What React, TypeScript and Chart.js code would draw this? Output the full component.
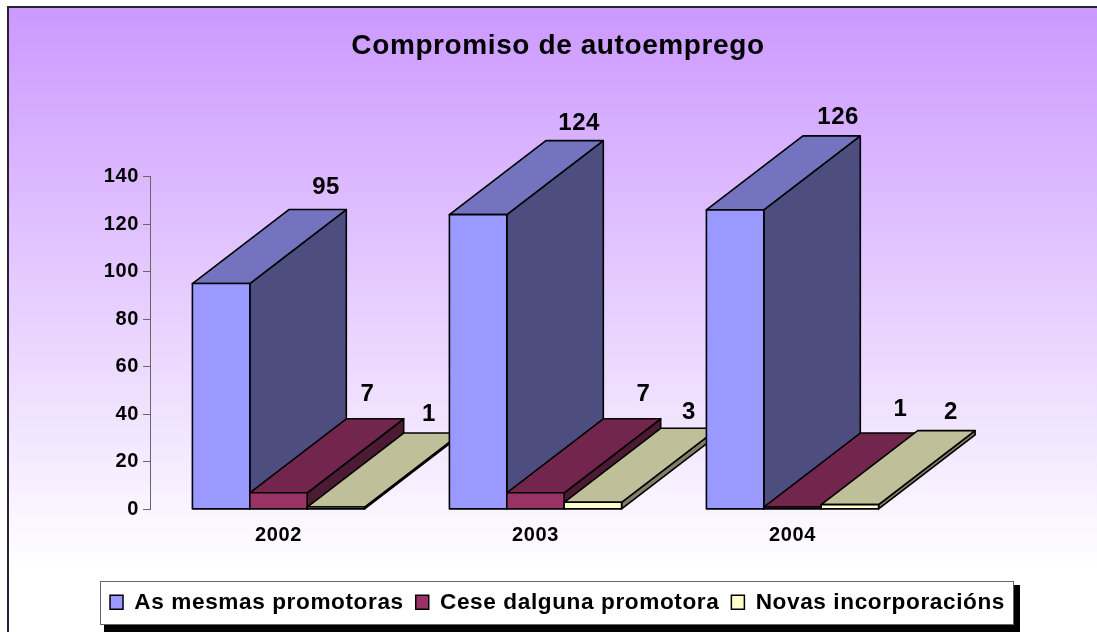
import React, { useEffect, useRef } from "react";
import { Chart, registerables } from "chart.js";

Chart.register(...registerables);

const categories = ["2002", "2003", "2004"];
const mesmas = [95, 124, 126];
const cese = [7, 7, 1];
const novas = [1, 3, 2];
const seriesNames = ["As mesmas promotoras", "Cese dalguna promotora", "Novas incorporacións"];
const yMax = 140;
const yStep = 20;

const FONT = "'Liberation Sans', Arial, sans-serif";
const SPACING = "0.6px";
const DEPTH_X = 96.5;
const DEPTH_Y = 74;
const faces = [
  { front: "#9999FF", top: "#7373BF", side: "#4D4D80" },
  { front: "#993366", top: "#73264D", side: "#4D1A33" },
  { front: "#FFFFCC", top: "#BFBF99", side: "#808066" },
];
// small per-label adjustments relative to each bar's back-top corner
const labelNudge = [
  [[4, -1], [0, 4], [2, 2]],
  [[-12, -3], [7, -3], [7, -3]],
  [[-8, 2], [-5, 5], [0, 3]],
];

function poly(ctx: CanvasRenderingContext2D, pts: number[][], fill: string) {
  ctx.beginPath();
  pts.forEach((p, i) => (i ? ctx.lineTo(p[0], p[1]) : ctx.moveTo(p[0], p[1])));
  ctx.closePath();
  ctx.fillStyle = fill;
  ctx.fill();
  ctx.stroke();
}

const scene = {
  id: "scene",
  beforeUpdate(chart: any) {
    chart.ctx.letterSpacing = SPACING;
    const legend = chart.legend;
    if (legend && !legend.__wide) {
      legend.__wide = true;
      const update = legend.update.bind(legend);
      // the legend is wider than the plot area, so let it lay out over the full canvas width
      legend.update = (_w: number, h: number, m: any) => update(chart.width, h, m);
    }
  },
  afterLayout(chart: any) {
    const t = chart.titleBlock;
    t.left = 100;
    t.right = 1016;
    const l = chart.legend;
    l.left = 85;
    l.right = 1030;
    l.top = 579;
    l.bottom = 625;
  },
  beforeDraw(chart: any) {
    const ctx: CanvasRenderingContext2D = chart.ctx;
    ctx.save();
    ctx.letterSpacing = SPACING;
    const g = ctx.createLinearGradient(0, 7, 0, 570);
    g.addColorStop(0, "#CC99FF");
    g.addColorStop(1, "#FFFFFF");
    ctx.fillStyle = g;
    ctx.fillRect(8, 7, 1089, 625);
    ctx.strokeStyle = "#2A2230";
    ctx.lineWidth = 2;
    ctx.beginPath();
    ctx.moveTo(8, 632);
    ctx.lineTo(8, 7);
    ctx.lineTo(1097, 7);
    ctx.stroke();
    ctx.fillStyle = "#000000";
    ctx.fillRect(104, 585, 916, 47);
    ctx.fillStyle = "#FFFFFF";
    ctx.fillRect(100, 581, 914, 44);
    ctx.strokeStyle = "#666666";
    ctx.lineWidth = 1;
    ctx.strokeRect(100.5, 581.5, 913, 43);
    ctx.restore();
  },
  beforeDatasetDraw() {
    return false;
  },
  afterDatasetsDraw(chart: any) {
    const ctx: CanvasRenderingContext2D = chart.ctx;
    ctx.save();
    ctx.strokeStyle = "#000000";
    ctx.lineWidth = 1.6;
    ctx.lineJoin = "round";
    categories.forEach((_, i) => {
      chart.data.datasets.forEach((_d: any, di: number) => {
        const bar = chart.getDatasetMeta(di).data[i];
        const { x, y, base, width } = bar.getProps(["x", "y", "base", "width"], true);
        const l = x - width / 2;
        const r = x + width / 2;
        const c = faces[di];
        poly(ctx, [[r, y], [r + DEPTH_X, y - DEPTH_Y], [r + DEPTH_X, base - DEPTH_Y], [r, base]], c.side);
        poly(ctx, [[l, y], [l + DEPTH_X, y - DEPTH_Y], [r + DEPTH_X, y - DEPTH_Y], [r, y]], c.top);
        poly(ctx, [[l, y], [r, y], [r, base], [l, base]], c.front);
      });
    });
    ctx.fillStyle = "#000000";
    ctx.font = `bold 24px ${FONT}`;
    ctx.letterSpacing = SPACING;
    ctx.textAlign = "center";
    ctx.textBaseline = "middle";
    chart.data.datasets.forEach((d: any, di: number) => {
      chart.getDatasetMeta(di).data.forEach((bar: any, i: number) => {
        const { x, y } = bar.getProps(["x", "y"], true);
        const [nx, ny] = labelNudge[di][i];
        ctx.fillText(String(d.data[i]), x + 101 + nx, y - DEPTH_Y - 21 + ny);
      });
    });
    ctx.restore();
  },
};

export default function App() {
  const ref = useRef<HTMLCanvasElement>(null);
  useEffect(() => {
    document.body.style.margin = "0";
    const chart = new Chart(ref.current!, {
      type: "bar",
      data: {
        labels: categories,
        datasets: [mesmas, cese, novas].map((data, i) => ({
          label: seriesNames[i],
          data,
          backgroundColor: faces[i].front,
          borderColor: "#000000",
          borderWidth: 1.5,
          categoryPercentage: 0.67,
          barPercentage: 1,
        })),
      },
      options: {
        responsive: false,
        animation: false,
        layout: { padding: { left: 0, right: 176, top: 0, bottom: 0 } },
        plugins: {
          tooltip: { enabled: false },
          title: {
            display: true,
            text: "Compromiso de autoemprego",
            color: "#000000",
            font: { family: FONT, size: 28, weight: "bold" },
            padding: { top: 29, bottom: 114 },
          },
          legend: {
            display: true,
            position: "bottom",
            labels: {
              color: "#000000",
              font: { family: FONT, size: 22.6, weight: "bold" },
              boxWidth: 13,
              boxHeight: 14,
              padding: 12,
            },
          },
        },
        scales: {
          x: {
            grid: { display: false },
            border: { display: false },
            afterFit: (s: any) => {
              s.height = 78;
            },
            ticks: {
              color: "#000000",
              padding: 6,
              maxRotation: 0,
              font: { family: FONT, size: 20, weight: "bold" },
            },
          },
          y: {
            min: 0,
            max: yMax,
            afterFit: (s: any) => {
              s.width = 150;
            },
            grid: { drawOnChartArea: false, drawTicks: true, tickLength: 7, color: "#666666" },
            border: { display: true, color: "#666666", width: 1 },
            ticks: {
              stepSize: yStep,
              color: "#000000",
              padding: 4,
              font: { family: FONT, size: 20, weight: "bold" },
            },
          },
        },
      },
      plugins: [scene],
    } as any);
    return () => chart.destroy();
  }, []);
  return <canvas ref={ref} width={1097} height={632} style={{ display: "block" }} />;
}
